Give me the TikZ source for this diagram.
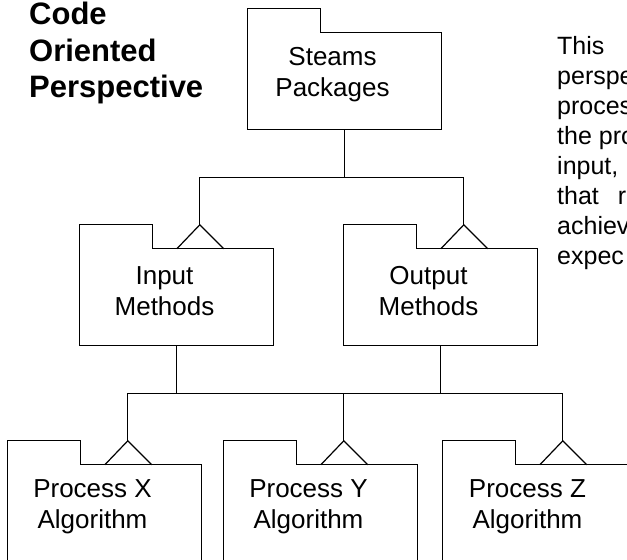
\documentclass[tikz,border=0pt]{standalone}
\usepackage{fontspec}
\setmainfont{Liberation Sans}
\usetikzlibrary{calc}

\tikzset{
  folder/.style={minimum width=193pt, minimum height=96pt, inner sep=0pt},
  flabel/.style={align=center, inner sep=0pt, font=\fontsize{26}{31}\selectfont},
  heading/.style={inner sep=0pt, anchor=base west, font=\fontsize{31}{36.5}\selectfont\bfseries},
  para/.style={inner sep=0pt, anchor=base west, font=\fontsize{25}{30}\selectfont},
  wire/.style={line width=1.2pt, line join=miter},
}

\begin{document}
\begin{tikzpicture}[x=1pt,y=1pt]
  \path[use as bounding box, clip] (0,0) rectangle (627,560);

  \begin{scope}[every node/.style={folder}]
    \node (steams) at (344.5,479) {};
    \node (input)  at (176.5,263) {};
    \node (output) at (440.5,263) {};
    \node (procx)  at (104.5,47)  {};
    \node (procy)  at (320.5,47)  {};
    \node (procz)  at (539.5,47)  {};
  \end{scope}

  \foreach \f/\t in {steams/{Steams\\Packages}, input/{Input\\Methods}, output/{Output\\Methods},
                     procx/{Process X\\Algorithm}, procy/{Process Y\\Algorithm}, procz/{Process Z\\Algorithm}}
    \node[flabel] (\f-text) at ([xshift=-12pt,yshift=6pt]\f.center) {\t};

  \foreach \f in {steams,input,output,procx,procy,procz}
    \draw[wire] (\f.south west) -- ($(\f.north west)+(0,24)$) -- ++(73,0) -- ++(0,-24)
      -- (\f.north east) -- (\f.south east) -- cycle;

  \foreach \f in {input,output,procx,procy,procz} {
    \coordinate (\f-tip) at ($(\f.north west)+(120,24)$);
    \draw[wire] ($(\f.north west)+(97,0)$) -- (\f-tip) -- ($(\f.north west)+(144,0)$);
  }

  \draw[wire] (steams.south) -- ++(0,-48) coordinate (bus1);
  \draw[wire] (input-tip) |- (bus1) -| (output-tip);
  \draw[wire] (input.south) -- ++(0,-48) coordinate (bus2);
  \draw[wire] (output.south) -- ++(0,-48) coordinate (bus3);
  \draw[wire] (procx-tip) |- (bus2) -- (bus3) -| (procz-tip);
  \draw[wire] (procy-tip) -- (procy-tip |- bus2);

  \foreach \t [count=\i from 0] in {Code, Oriented, Perspective}
    \node[heading] (title\i) at (29,535-36.5*\i) {\t};

  \foreach \t [count=\i from 0] in {This, perspe, proces, the pro, {input,}, that\hspace{19pt}r, achiev, expec}
    \node[para] (line\i) at (557,505-30*\i) {\t};

\end{tikzpicture}
\end{document}
